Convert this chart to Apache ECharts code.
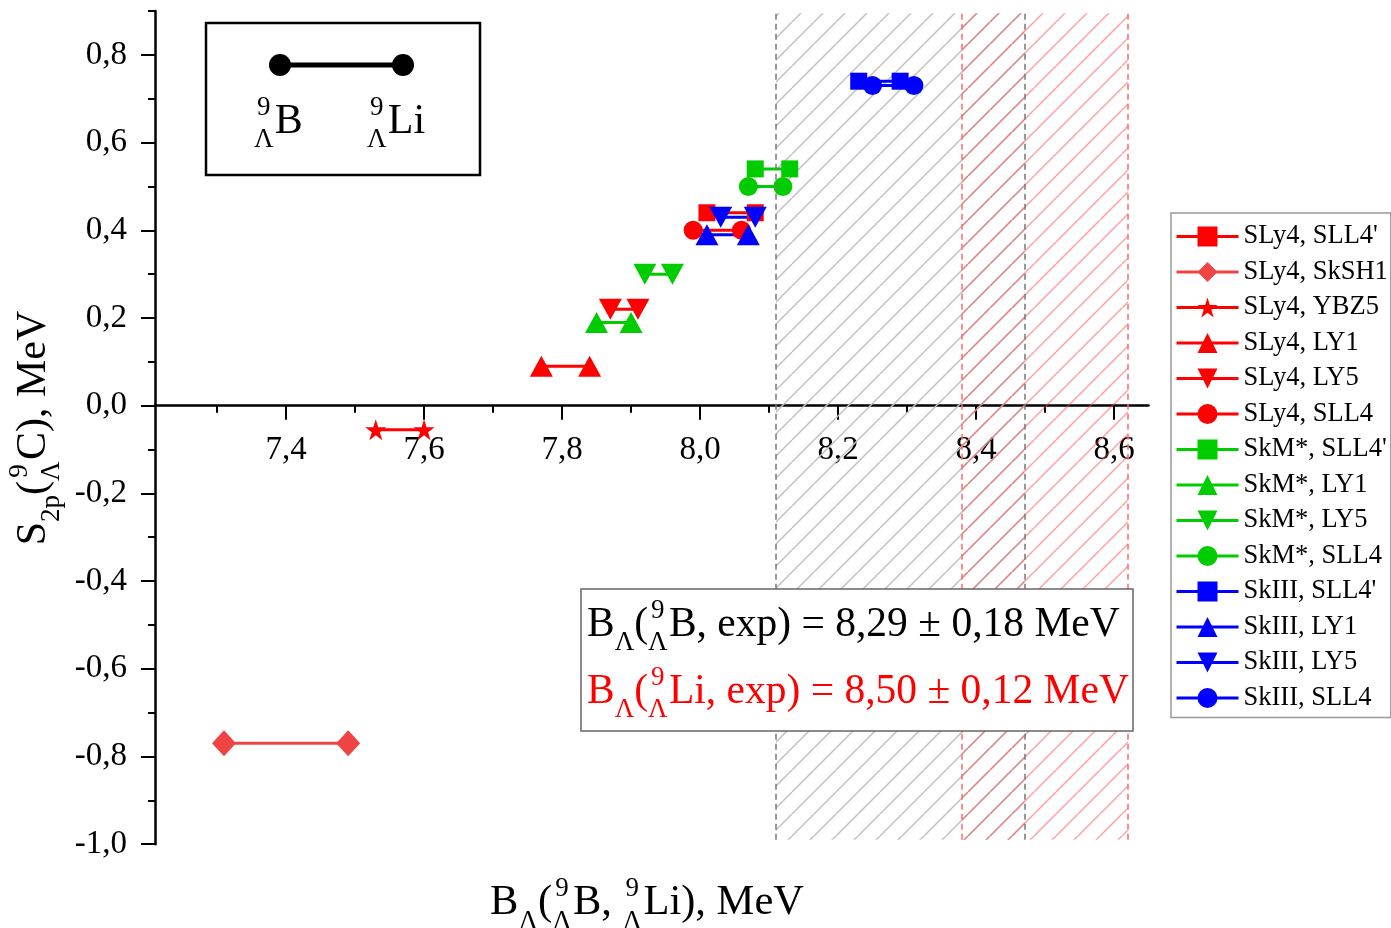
<!DOCTYPE html>
<html><head><meta charset="utf-8">
<script src="https://cdn.jsdelivr.net/npm/echarts@6.0.0/dist/echarts.min.js"></script>
<style>html,body{margin:0;padding:0;background:#fff}#c{width:1391px;height:928px}</style>
</head><body><div id="c"></div>
<script>
// ---------- data ----------
const seriesNames = ["SLy4, SLL4'", "SLy4, SkSH1", "SLy4, YBZ5", "SLy4, LY1", "SLy4, LY5", "SLy4, SLL4",
  "SkM*, SLL4'", "SkM*, LY1", "SkM*, LY5", "SkM*, SLL4",
  "SkIII, SLL4'", "SkIII, LY1", "SkIII, LY5", "SkIII, SLL4"];
const bLambdaB  = [8.01, 7.31, 7.53, 7.77, 7.87, 7.99, 8.08, 7.85, 7.92, 8.07, 8.23, 8.01, 8.03, 8.25];
const bLambdaLi = [8.08, 7.49, 7.60, 7.84, 7.91, 8.06, 8.13, 7.90, 7.96, 8.12, 8.29, 8.07, 8.08, 8.31];
const s2pC      = [0.44, -0.77, -0.055, 0.09, 0.22, 0.40, 0.54, 0.19, 0.30, 0.50, 0.74, 0.39, 0.43, 0.73];
const xTicks = [7.4, 7.6, 7.8, 8.0, 8.2, 8.4, 8.6];
const yTicks = [-1.0, -0.8, -0.6, -0.4, -0.2, 0.0, 0.2, 0.4, 0.6, 0.8];
const expB  = [8.29, 0.18];   // B_Λ(9ΛB, exp) value, uncertainty
const expLi = [8.50, 0.12];   // B_Λ(9ΛLi, exp) value, uncertainty

// ---------- styles ----------
const FONT = '"Liberation Serif", "Times New Roman", serif';
const RED = '#ff0000', DIA = '#f04444', GRN = '#00cc00', BLU = '#0000ff';
const TRI_DOWN = 'path://M0,0L20,0L10,18Z';
const STAR = 'path://M50,0L61.2,34.5L97.6,34.5L68.2,55.9L79.4,90.5L50,69.1L20.6,90.5L31.8,55.9L2.4,34.5L38.8,34.5Z';
const TRI = [23, 21];
const styles = [
  [RED, 'rect', 17], [DIA, 'diamond', [24, 26]], [RED, STAR, 21], [RED, 'triangle', TRI], [RED, TRI_DOWN, TRI], [RED, 'circle', 19],
  [GRN, 'rect', 17], [GRN, 'triangle', TRI], [GRN, TRI_DOWN, TRI], [GRN, 'circle', 19],
  [BLU, 'rect', 17], [BLU, 'triangle', TRI], [BLU, TRI_DOWN, TRI], [BLU, 'circle', 19]
];
const hatchY = [-0.99, 0.895];
const GRID = { left: 155, right: 242.5, top: 11, bottom: 83.8 };
const Y_MIN = -1.0, Y_MAX = 0.9001;

const fmt = (v, d) => v.toFixed(d).replace('.', ',');

function hatch(color) {
  const s = 22, c = document.createElement('canvas');
  c.width = s; c.height = s;
  const g = c.getContext('2d');
  g.strokeStyle = color; g.lineWidth = 1.5;
  g.beginPath();
  for (const o of [-s, 0, s]) { g.moveTo(o, s); g.lineTo(o + s, 0); }
  g.stroke();
  return c;
}

const mctx = document.createElement('canvas').getContext('2d');
function tw(s, fs) { mctx.font = fs + 'px ' + FONT; return mctx.measureText(s).width; }
function mathLine(tokens, fs, color) {
  const ss = Math.round(fs * 0.64);
  const out = []; let x = 0;
  const put = (s, px, base, f) => out.push({
    type: 'text', x: px, y: base - 0.3375 * f, z: 60,
    style: { text: s, fontSize: f, fontFamily: FONT, fill: color, align: 'left', verticalAlign: 'middle' }
  });
  for (const t of tokens) {
    if (t.pre) {
      const w = Math.max(tw(t.pre[0], ss), tw(t.pre[1], ss));
      put(t.pre[0], x + (w - tw(t.pre[0], ss)) / 2, -0.45 * fs, ss);
      put(t.pre[1], x + (w - tw(t.pre[1], ss)) / 2, 0.32 * fs, ss);
      x += w + 0.03 * fs;
    } else if (t.sub) {
      put(t.sub, x, 0.32 * fs, ss); x += tw(t.sub, ss);
    } else {
      put(t.t, x, 0, fs); x += tw(t.t, fs);
    }
  }
  return { children: out, width: x };
}
function mathGroup(tokens, fs, color, x, y, anchor, rotation) {
  const m = mathLine(tokens, fs, color);
  const off = anchor === 'center' ? -m.width / 2 : 0;
  return { type: 'group', x: x, y: y, rotation: rotation || 0,
    children: [{ type: 'group', x: off, y: 0, children: m.children }] };
}
const L9 = { pre: ['9', 'Λ'] };

const chart = echarts.init(document.getElementById('c'), null, { renderer: 'canvas' });

// x axis is drawn through y = 0: shift it up from the grid bottom by the pixel distance of y=0
const gridH = 928 - GRID.top - GRID.bottom;
const zeroOffset = gridH * (0 - Y_MIN) / (Y_MAX - Y_MIN);

const dataSeries = seriesNames.map((n, i) => ({
  name: n, type: 'line',
  data: [[bLambdaB[i], s2pC[i]], [bLambdaLi[i], s2pC[i]]],
  symbol: styles[i][1], symbolSize: styles[i][2],
  itemStyle: { color: styles[i][0] },
  lineStyle: { color: styles[i][0], width: 3 },
  emphasis: { disabled: true },
  z: 3
}));

const vline = (x, color) => [
  { coord: [x, hatchY[0]], lineStyle: { color: color, type: [6, 4], width: 1.5 } },
  { coord: [x, hatchY[1]] }
];

const expSeries = {
  name: 'exp', type: 'line', data: [], silent: true, z: 1,
  markArea: {
    silent: true, label: { show: false },
    data: [
      [{ coord: [expB[0] - expB[1], hatchY[0]], itemStyle: { color: { image: hatch('#c0c0c0'), repeat: 'repeat' }, borderWidth: 0 } },
       { coord: [expB[0] + expB[1], hatchY[1]] }],
      [{ coord: [expLi[0] - expLi[1], hatchY[0]], itemStyle: { color: { image: hatch('rgba(255,70,70,0.5)'), repeat: 'repeat' }, borderWidth: 0 } },
       { coord: [expLi[0] + expLi[1], hatchY[1]] }]
    ]
  },
  markLine: {
    silent: true, symbol: 'none', label: { show: false },
    data: [
      vline(expB[0] - expB[1], '#777'), vline(expB[0] + expB[1], '#777'),
      vline(expLi[0] - expLi[1], '#ff6a6a'), vline(expLi[0] + expLi[1], '#ff6a6a')
    ]
  }
};

const graphics = [
  // key box (upper left)
  { type: 'rect', z: 50, shape: { x: 206, y: 23, width: 274, height: 152 }, style: { fill: '#fff', stroke: '#000', lineWidth: 2.5 } },
  { type: 'line', z: 51, shape: { x1: 280, y1: 65, x2: 403, y2: 65 }, style: { stroke: '#000', lineWidth: 5 } },
  { type: 'circle', z: 52, shape: { cx: 280, cy: 65, r: 11 }, style: { fill: '#000' } },
  { type: 'circle', z: 52, shape: { cx: 403, cy: 65, r: 11 }, style: { fill: '#000' } },
  mathGroup([L9, { t: 'B' }], 42, '#000', 254, 136, 'left'),
  mathGroup([L9, { t: 'Li' }], 42, '#000', 367, 136, 'left'),
  // experiment box
  { type: 'rect', z: 50, shape: { x: 581, y: 589, width: 552, height: 142 }, style: { fill: '#fff', stroke: '#666', lineWidth: 1.5 } },
  mathGroup([{ t: 'B' }, { sub: 'Λ' }, { t: '(' }, L9, { t: 'B, exp) = ' + fmt(expB[0], 2) + ' ± ' + fmt(expB[1], 2) + ' MeV' }], 41.5, '#000', 587, 639, 'left'),
  mathGroup([{ t: 'B' }, { sub: 'Λ' }, { t: '(' }, L9, { t: 'Li, exp) = ' + fmt(expLi[0], 2) + ' ± ' + fmt(expLi[1], 2) + ' MeV' }], 41.5, '#ff0000', 587, 706, 'left'),
  // axis titles
  mathGroup([{ t: 'B' }, { sub: 'Λ' }, { t: '(' }, L9, { t: 'B, ' }, L9, { t: 'Li), MeV' }], 42.5, '#000', 647, 917, 'center'),
  mathGroup([{ t: 'S' }, { sub: '2p' }, { t: '(' }, L9, { t: 'C), MeV' }], 42, '#000', 48, 428, 'center', Math.PI / 2)
];

chart.setOption({
  animation: false,
  backgroundColor: '#fff',
  grid: { left: GRID.left, right: GRID.right, top: GRID.top, bottom: GRID.bottom, containLabel: false },
  xAxis: {
    type: 'value', min: 7.21, max: 8.65, minInterval: 0.2, maxInterval: 0.2,
    offset: -zeroOffset,
    axisLine: { onZero: false, lineStyle: { color: '#000', width: 2.5 } },
    axisTick: { show: true, customValues: xTicks, length: 14, lineStyle: { color: '#000', width: 2 } },
    minorTick: { show: true, splitNumber: 2, length: 7, lineStyle: { color: '#000', width: 2 } },
    axisLabel: { customValues: xTicks, formatter: v => fmt(v, 1), fontSize: 33, fontFamily: FONT, color: '#000', margin: 28 },
    splitLine: { show: false }, minorSplitLine: { show: false }
  },
  yAxis: {
    type: 'value', min: Y_MIN, max: Y_MAX, minInterval: 0.2, maxInterval: 0.2,
    axisLine: { show: true, onZero: false, lineStyle: { color: '#000', width: 2.5 } },
    axisTick: { show: true, customValues: yTicks, length: 14, lineStyle: { color: '#000', width: 2 } },
    minorTick: { show: true, splitNumber: 2, length: 7, lineStyle: { color: '#000', width: 2 } },
    axisLabel: { customValues: yTicks, formatter: v => fmt(v, 1), fontSize: 33, fontFamily: FONT, color: '#000', margin: 28 },
    splitLine: { show: false }, minorSplitLine: { show: false }
  },
  legend: {
    data: seriesNames, orient: 'vertical', left: 1171, top: 213,
    padding: [10, 3, 6, 4], itemWidth: 62, itemHeight: 25, itemGap: 8.5,
    borderColor: '#999', borderWidth: 1.5, backgroundColor: '#fff',
    selectedMode: false,
    lineStyle: { width: 3 },
    textStyle: { fontSize: 26.5, fontFamily: FONT, color: '#000' }
  },
  graphic: { elements: graphics },
  series: [expSeries].concat(dataSeries)
});
</script>
</body></html>
